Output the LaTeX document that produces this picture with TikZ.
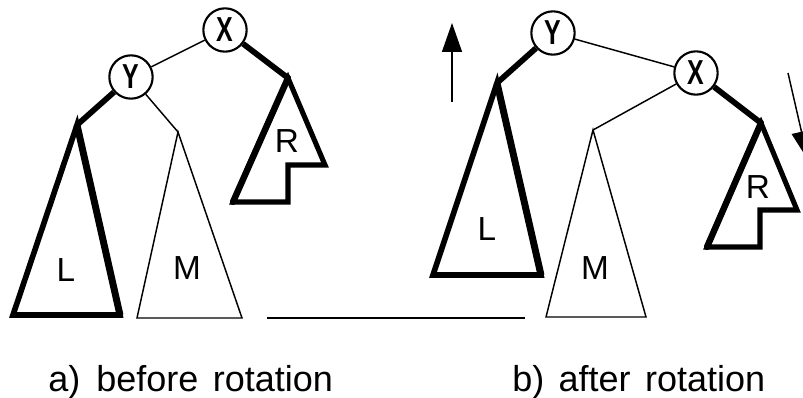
\documentclass[tikz,border=0pt]{standalone}
\usepackage{fontspec}
\setmainfont{Liberation Sans}
\newfontfamily\keyfont[FakeStretch=0.72,UprightFont={* Bold}]{Liberation Sans}
\usetikzlibrary{arrows.meta}

\begin{document}
\begin{tikzpicture}[x=0.75pt,y=-0.75pt,
  key/.style={circle, draw, line width=1.6pt, minimum size=32.5pt, inner sep=0pt,
    font=\keyfont\fontsize{26}{26}\selectfont},
  thinline/.style={line width=1.1pt},
  thickline/.style={line width=4.3pt, line join=miter},
  subtree/.style={line join=miter, fill=white},
  treename/.style={inner sep=0pt, font=\fontsize{25}{25}\selectfont},
  caption/.style={anchor=base west, inner sep=0pt, font=\fontsize{27}{30}\selectfont},
  motion/.style={line width=1.1pt, -{Triangle[length=21.75pt, width=15pt]}}
]
\useasboundingbox (0,0) rectangle (803,398);
\clip (0,0) rectangle (803,398);

% ---------- a) before rotation ----------
\node[key] (xa) at (225,30) {X};
\node[key] (ya) at (131,77) {Y};
\coordinate (la) at (77,125);
\coordinate (ma) at (178,132);
\coordinate (ra) at (288,78);

\draw[thinline] (ya) -- (xa);
\draw[thickline] (ya) -- (la);
\draw[thinline] (ya) -- (ma);
\draw[thickline] (xa) -- (ra);

% subtree L (heavy outline)
\draw[subtree, line width=4.2pt] (la) -- (13,315) -- (120,315) -- cycle;
\draw[line width=5.2pt] (la) -- (120,315);
% subtree M (light outline)
\draw[subtree, line width=1.1pt] (ma) -- (137,318) -- (242,318) -- cycle;
% subtree R (heavy, stepped outline)
\draw[subtree, line width=3.8pt] (ra) -- (325,165) -- (288,165) -- (288,202) -- (233,202) -- cycle;
\draw[line width=4.8pt, line cap=round] (ra) -- (233,202);

\node[treename] (tla) at (66,270) {L};
\node[treename] (tma) at (187,268) {M};
\node[treename] (tra) at (287,141) {R};

% separator
\coordinate (s1) at (267,318);
\coordinate (s2) at (525,318);
\draw[thinline] (s1) -- (s2);

% ---------- b) after rotation ----------
\node[key] (yb) at (553,33) {Y};
\node[key] (xb) at (696,73) {X};
\coordinate (lb) at (497,83);
\coordinate (mb) at (593,130);
\coordinate (rb) at (761,123);

\draw[thinline] (yb) -- (xb);
\draw[thickline] (yb) -- (lb);
\draw[thinline] (xb) -- (mb);
\draw[thickline] (xb) -- (rb);

\draw[subtree, line width=4.2pt] (lb) -- (433,275) -- (541,275) -- cycle;
\draw[line width=5.2pt] (lb) -- (541,275);
\draw[subtree, line width=1.1pt] (mb) -- (546,317) -- (646,317) -- cycle;
\draw[subtree, line width=3.8pt] (rb) -- (797,210) -- (760,210) -- (760,247) -- (707,247) -- cycle;
\draw[line width=4.8pt, line cap=round] (rb) -- (707,247);

\node[treename] (tlb) at (487,229) {L};
\node[treename] (tmb) at (595,268) {M};
\node[treename] (trb) at (758,187) {R};

% movement arrows
\coordinate (up0) at (452,102);
\coordinate (up1) at (452,23);
\draw[motion] (up0) -- (up1);
\coordinate (dn0) at (788,73);
\coordinate (dn1) at (808,160);
\draw[motion] (dn0) -- (dn1);

% captions
\node[caption] (capa) at (48,392) {a)\hspace{0.45em}before\hspace{0.4em}rotation};
\node[caption] (capb) at (512,392) {b)\hspace{0.4em}after\hspace{0.4em}rotation};
\end{tikzpicture}
\end{document}
